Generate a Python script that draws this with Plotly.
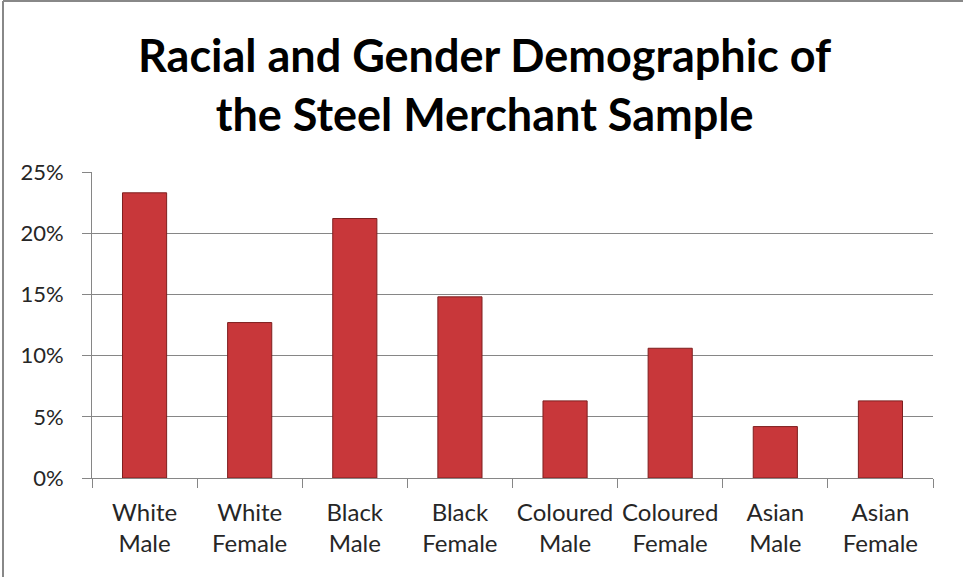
import plotly.graph_objects as go

categories = ["White<br>Male", "White<br>Female", "Black<br>Male", "Black<br>Female",
              "Coloured<br>Male", "Coloured<br>Female", "Asian<br>Male", "Asian<br>Female"]
shares = [23.3, 12.7, 21.2, 14.8, 6.3, 10.6, 4.2, 6.3]
y_ticks = [0, 5, 10, 15, 20, 25]
y_tick_labels = ["0%", "5%", "10%", "15%", "20%", "25%"]
title_text = "Racial and Gender Demographic of<br>the Steel Merchant Sample"

W, H = 963, 577
L, R, T, B = 92, 30, 172, 99

fig = go.Figure()
fig.add_trace(go.Bar(
    x=categories, y=shares,
    marker=dict(color="#C8373A", line=dict(color="#7E1F1F", width=1)),
    width=0.42,
))

pw = W - L - R
ph = H - T - B
def px_x(p):
    return (p - L) / pw
def px_y(p):
    return 1 - (p - T) / ph

fig.update_layout(
    width=W, height=H,
    margin=dict(l=L, r=R, t=T, b=B, autoexpand=False),
    paper_bgcolor="white", plot_bgcolor="white",
    showlegend=False,
    font=dict(family="Lato", color="#262626"),
    xaxis=dict(showline=True, linecolor="#868686", linewidth=1, automargin=False,
               ticks="outside", ticklen=9, tickcolor="#868686", tickangle=0,
               tickson="boundaries", tickfont=dict(size=24, color="#262626"),
               ticklabelstandoff=13, showgrid=False),
    yaxis=dict(range=[0, 25], tickvals=y_ticks, ticktext=y_tick_labels, automargin=False,
               showline=True, linecolor="#868686", linewidth=1,
               ticks="outside", ticklen=9, tickcolor="#868686",
               gridcolor="#868686", gridwidth=1, zeroline=False,
               tickfont=dict(size=22, color="#262626"), ticklabelstandoff=14),
    annotations=[
        dict(text=title_text, xref="paper", yref="paper", x=px_x(484), y=px_y(26),
             xanchor="center", yanchor="top", showarrow=False,
             font=dict(family="Lato", size=45, color="black", weight="bold"))
    ],
    shapes=[
        dict(type="line", xref="paper", yref="paper",
             x0=px_x(3), x1=px_x(W + 5), y0=px_y(1), y1=px_y(1),
             line=dict(color="#888888", width=2)),
        dict(type="line", xref="paper", yref="paper",
             x0=px_x(3), x1=px_x(3), y0=px_y(1), y1=px_y(H + 5),
             line=dict(color="#888888", width=2)),
    ],
)

fig.write_html("out.html", config={"displayModeBar": False},
               post_script="document.body.style.margin='0';document.body.style.overflow='hidden';")
